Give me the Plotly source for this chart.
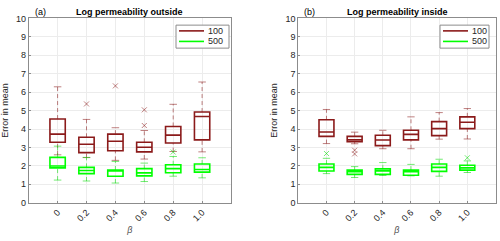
import plotly.graph_objects as go

betas = ["0", "0.2", "0.4", "0.6", "0.8", "1.0"]
positions = [1, 2, 3, 4, 5, 6]
series_names = ["100", "500"]

# Panel (a): Log permeability outside
a100_lo = [2.60, 2.45, 2.30, 2.37, 2.78, 2.76]
a100_q1 = [3.28, 2.72, 2.82, 2.76, 3.24, 3.41]
a100_med = [3.72, 3.17, 3.34, 3.01, 3.67, 4.68]
a100_q3 = [4.54, 3.55, 3.72, 3.28, 4.14, 4.92]
a100_hi = [6.29, 4.52, 4.07, 3.92, 5.34, 6.55]
a100_out_x = ["0.2", "0.4", "0.6", "0.6"]
a100_out_y = [5.36, 6.34, 5.04, 4.19]

a500_lo = [1.23, 1.18, 1.07, 1.15, 1.44, 1.35]
a500_q1 = [1.89, 1.58, 1.44, 1.46, 1.63, 1.66]
a500_med = [1.99, 1.75, 1.72, 1.62, 1.85, 1.80]
a500_q3 = [2.46, 1.92, 1.78, 1.85, 2.06, 2.10]
a500_hi = [3.07, 2.46, 2.24, 2.15, 2.51, 2.44]
a500_out_x = ["0.8"]
a500_out_y = [2.75]

# Panel (b): Log permeability inside
b100_lo = [3.21, 3.20, 2.93, 2.93, 3.45, 3.46]
b100_q1 = [3.60, 3.31, 3.10, 3.41, 3.64, 4.02]
b100_med = [3.84, 3.41, 3.40, 3.71, 4.02, 4.37]
b100_q3 = [4.50, 3.60, 3.66, 3.93, 4.40, 4.66]
b100_hi = [5.06, 3.83, 3.93, 4.66, 4.89, 5.11]
b100_out_x = ["0.2", "0.2"]
b100_out_y = [2.85, 2.65]

b500_lo = [1.58, 1.37, 1.48, 1.46, 1.44, 1.64]
b500_q1 = [1.72, 1.54, 1.54, 1.49, 1.70, 1.77]
b500_med = [1.92, 1.68, 1.73, 1.68, 1.92, 1.89]
b500_q3 = [2.10, 1.77, 1.84, 1.77, 2.10, 2.03]
b500_hi = [2.41, 1.96, 2.18, 2.08, 2.36, 2.27]
b500_out_x = ["0", "1.0"]
b500_out_y = [2.67, 2.44]

RED = "#8b1a1a"
RED_W = "rgba(139,26,26,0.55)"
GREEN = "#00ff00"
GREEN_W = "rgba(0,220,0,0.55)"
FONT = "Liberation Sans"
TXT = "#262626"
FS = 9
BOXW = 0.53
CAPW = 0.13

pos_of = dict(zip(betas, positions))

fig = go.Figure()


def add_series(name, lo, q1, med, q3, hi, outx, outy, color, wcolor, xa, ya):
    wx, wy, cx, cy = [], [], [], []
    for p, l, a, b, h in zip(positions, lo, q1, q3, hi):
        wx += [p, p, None, p, p, None]
        wy += [b, h, None, l, a, None]
        cx += [p - CAPW, p + CAPW, None, p - CAPW, p + CAPW, None]
        cy += [h, h, None, l, l, None]
    fig.add_trace(go.Scatter(x=wx, y=wy, mode="lines", xaxis=xa, yaxis=ya,
                             line=dict(color=wcolor, width=1, dash="4px,3px"),
                             showlegend=False, hoverinfo="skip"))
    fig.add_trace(go.Scatter(x=cx, y=cy, mode="lines", xaxis=xa, yaxis=ya,
                             line=dict(color=wcolor, width=1),
                             showlegend=False, hoverinfo="skip"))
    fig.add_trace(go.Box(x=positions, q1=q1, median=med, q3=q3, name=name,
                         lowerfence=q1, upperfence=q3, width=BOXW,
                         xaxis=xa, yaxis=ya, fillcolor="rgba(0,0,0,0)",
                         line=dict(color=color, width=1.6),
                         whiskerwidth=0, showlegend=False, boxpoints=False))
    fig.add_trace(go.Scatter(x=[pos_of[v] for v in outx], y=outy, mode="markers",
                             xaxis=xa, yaxis=ya,
                             marker=dict(symbol="x-thin", size=5,
                                         line=dict(color=wcolor, width=1)),
                             showlegend=False, hoverinfo="skip"))


add_series(series_names[0], a100_lo, a100_q1, a100_med, a100_q3, a100_hi, a100_out_x, a100_out_y, RED, RED_W, "x", "y")
add_series(series_names[1], a500_lo, a500_q1, a500_med, a500_q3, a500_hi, a500_out_x, a500_out_y, GREEN, GREEN_W, "x", "y")
add_series(series_names[0], b100_lo, b100_q1, b100_med, b100_q3, b100_hi, b100_out_x, b100_out_y, RED, RED_W, "x2", "y2")
add_series(series_names[1], b500_lo, b500_q1, b500_med, b500_q3, b500_hi, b500_out_x, b500_out_y, GREEN, GREEN_W, "x2", "y2")

ax_common = dict(showline=True, linecolor="#8c8c8c", linewidth=1, mirror=True,
                 showgrid=True, gridcolor="#ececec", gridwidth=1, zeroline=False,
                 ticks="inside", ticklen=2, tickcolor="#8c8c8c",
                 tickfont=dict(family=FONT, size=FS, color=TXT))

xcommon = dict(ax_common, range=[0, 7], tickvals=positions, ticktext=betas,
               tickangle=-45,
               title=dict(text="<i>β</i>", font=dict(family=FONT, size=FS, color="#555555"),
                          standoff=4))
ycommon = dict(ax_common, range=[0, 10], dtick=1,
               title=dict(text="Error in mean", font=dict(family=FONT, size=FS, color=TXT),
                          standoff=6))

ytop = 1 - 14 / 241
ybot = 1 - 206.3 / 241


def px(v):
    return v / 500


def py(v):
    return 1 - v / 241


shapes = []
annotations = []
# manual legends (box, line samples, labels)
for left, right in [(176, 229), (440, 489)]:
    shapes.append(dict(type="rect", xref="paper", yref="paper",
                       x0=px(left), x1=px(right), y0=py(45), y1=py(21),
                       line=dict(color="#8c8c8c", width=1), fillcolor="white", layer="above"))
    for i, (name, col) in enumerate(zip(series_names, [RED, GREEN])):
        yy = 27 + 11 * i
        shapes.append(dict(type="line", xref="paper", yref="paper",
                           x0=px(left + 3), x1=px(left + 28), y0=py(yy), y1=py(yy),
                           line=dict(color=col, width=1.6), layer="above"))
        annotations.append(dict(text=name, x=px(left + 30), y=py(yy), xref="paper", yref="paper",
                                showarrow=False, xanchor="left", yanchor="middle",
                                font=dict(family=FONT, size=FS, color=TXT)))

annotations += [
    dict(text="<b>Log permeability outside</b>", x=px(129.8), y=py(7.5),
         xref="paper", yref="paper", showarrow=False, xanchor="center", yanchor="middle",
         font=dict(family=FONT, size=FS, color="#000000")),
    dict(text="(a)", x=px(33), y=py(7.5), xref="paper", yref="paper",
         showarrow=False, xanchor="left", yanchor="middle",
         font=dict(family=FONT, size=FS, color="#000000")),
    dict(text="<b>Log permeability inside</b>", x=px(397), y=py(7.5),
         xref="paper", yref="paper", showarrow=False, xanchor="center", yanchor="middle",
         font=dict(family=FONT, size=FS, color="#000000")),
    dict(text="(b)", x=px(302), y=py(7.5), xref="paper", yref="paper",
         showarrow=False, xanchor="left", yanchor="middle",
         font=dict(family=FONT, size=FS, color="#000000")),
]

fig.update_layout(
    width=500, height=241,
    margin=dict(l=0, r=0, t=0, b=0),
    paper_bgcolor="white", plot_bgcolor="white",
    boxmode="overlay", showlegend=False,
    xaxis=dict(xcommon, domain=[px(28.7), px(231)], anchor="y"),
    yaxis=dict(ycommon, domain=[ybot, ytop], anchor="x"),
    xaxis2=dict(xcommon, domain=[px(298.3), px(495.5)], anchor="y2"),
    yaxis2=dict(ycommon, domain=[ybot, ytop], anchor="x2"),
    shapes=shapes,
    annotations=annotations,
)

fig.write_html("out.html", config={"displayModeBar": False},
               post_script="document.body.style.margin='0';document.body.style.overflow='hidden';")
